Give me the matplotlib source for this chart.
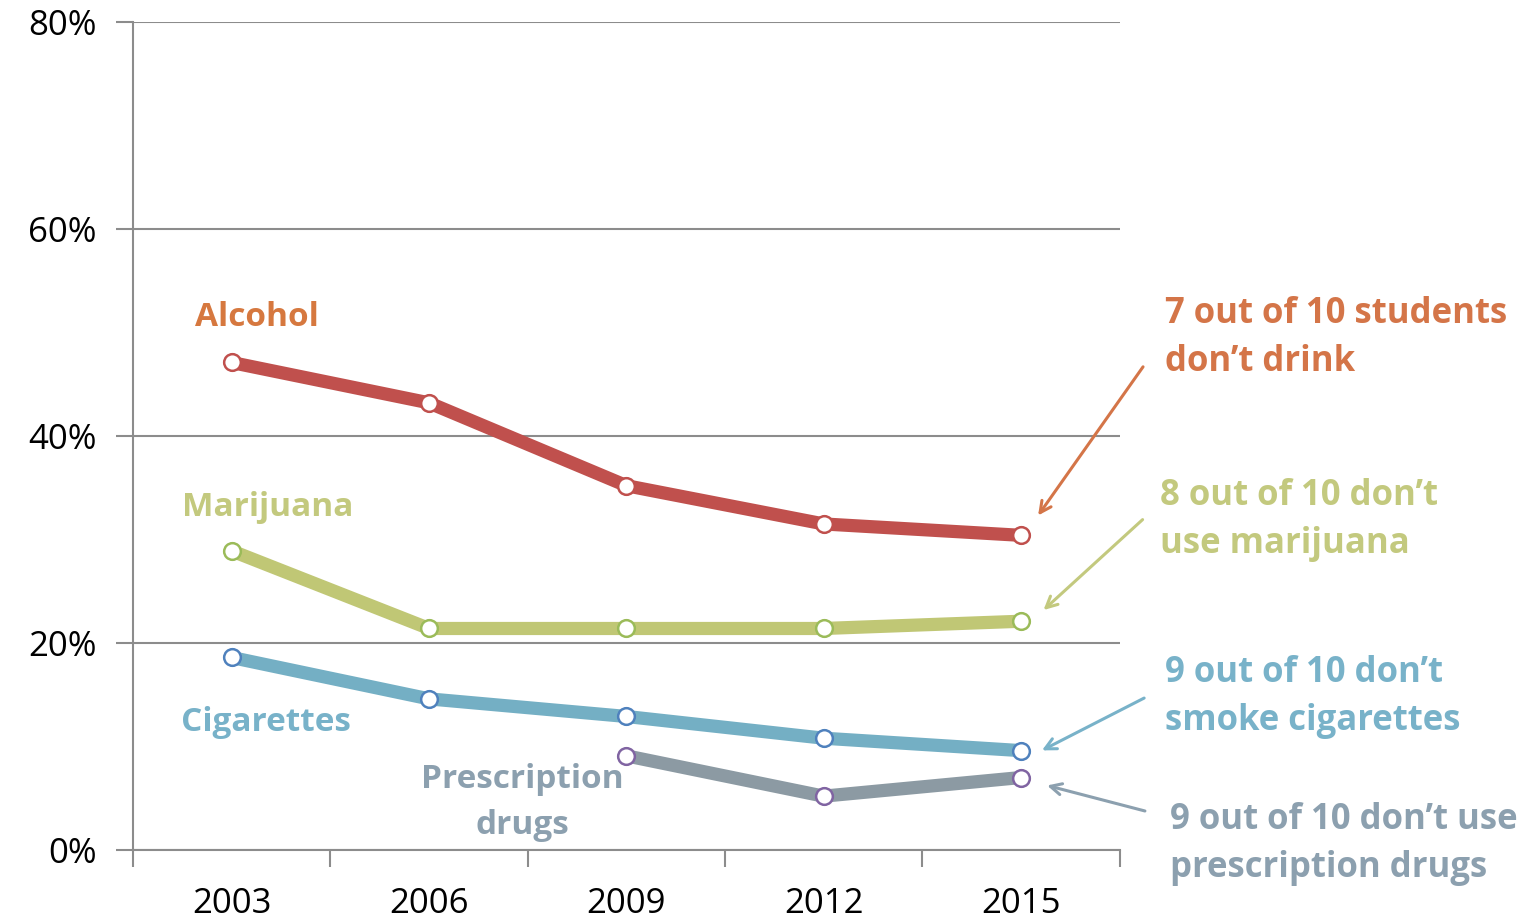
import numpy as np
import matplotlib
matplotlib.use("Agg")
import matplotlib.pyplot as plt

plt.rcParams['font.family'] = ['Open Sans', 'DejaVu Sans']

years = ["2003", "2006", "2009", "2012", "2015"]
alcohol = [47.1, 43.2, 35.2, 31.5, 30.4]
marijuana = [28.9, 21.4, 21.4, 21.4, 22.1]
cigarettes = [18.6, 14.6, 12.9, 10.8, 9.6]
prescription = [None, None, 9.1, 5.2, 7.0]

# line colour, marker edge colour, text colour
series = [
    ("Alcohol", alcohol, "#C0504D", "#C0504D", "#D6783F", (0.13, 51.4)),
    ("Marijuana", marijuana, "#C0C775", "#9BBB59", "#C3C97E", (0.185, 33.1)),
    ("Cigarettes", cigarettes, "#74AFC4", "#4F81BD", "#78B2C9", (0.175, 12.3)),
    ("Prescription\ndrugs", prescription, "#8C9AA3", "#8064A2", "#8CA0AF", (1.475, 4.6)),
]

notes = [
    ("7 out of 10 students\ndon\u2019t drink", "#D47548", (4.73, 49.5), (4.627, 46.9), (4.079, 32.1)),
    ("8 out of 10 don\u2019t\nuse marijuana", "#C3C97E", (4.705, 31.9), (4.627, 32.1), (4.104, 23.0)),
    ("9 out of 10 don\u2019t\nsmoke cigarettes", "#78B2C9", (4.73, 14.8), (4.637, 14.8), (4.094, 9.5)),
    ("9 out of 10 don\u2019t use\nprescription drugs", "#8CA0AF", (4.755, 0.6), (4.642, 3.7), (4.119, 6.3)),
]

fig = plt.figure(figsize=(15.32, 9.19), dpi=100)
ax = fig.add_axes([0.0868, 0.0751, 0.644, 0.901])

x = np.arange(len(years))
for name, vals, lc, mc, tc, pos in series:
    xs = [i for i, v in zip(x, vals) if v is not None]
    ys = [v for v in vals if v is not None]
    ax.plot(xs, ys, color=lc, lw=9.5, marker="o", ms=12, mfc="white",
            mec=mc, mew=1.8, solid_capstyle="butt", zorder=3)
    ax.text(pos[0], pos[1], name, color=tc, fontsize=24, fontweight="bold",
            ha="center", va="center", linespacing=1.5, zorder=4)

for txt, col, tpos, start, end in notes:
    ax.text(tpos[0], tpos[1], txt, color=col, fontsize=25, fontweight="bold",
            ha="left", va="center", linespacing=1.45, clip_on=False)
    ax.annotate("", xy=end, xytext=start, annotation_clip=False,
                arrowprops=dict(arrowstyle="->,head_length=0.8,head_width=0.4",
                                color=col, lw=2.2))

ax.set_xlim(-0.5, 4.5)
ax.set_ylim(0, 80)
ax.set_yticks([0, 20, 40, 60, 80])
ax.set_yticklabels(["0%", "20%", "40%", "60%", "80%"])
ax.yaxis.grid(True, color="#8C8C8C", lw=1.5)
ax.set_axisbelow(True)

ax.set_xticks(np.arange(-0.5, 5, 1))
ax.set_xticklabels([])
ax.set_xticks(x, minor=True)
ax.set_xticklabels(years, minor=True)
ax.tick_params(axis="x", which="major", length=12, width=1.5, color="#8C8C8C")
ax.tick_params(axis="x", which="minor", length=0, labelsize=25, pad=27)
ax.tick_params(axis="y", length=12, width=1.5, color="#8C8C8C", labelsize=25, pad=14)

for s in ["top", "right"]:
    ax.spines[s].set_visible(False)
for s in ["left", "bottom"]:
    ax.spines[s].set_color("#8C8C8C")
    ax.spines[s].set_linewidth(1.5)

fig.savefig("out.png", dpi=100)
